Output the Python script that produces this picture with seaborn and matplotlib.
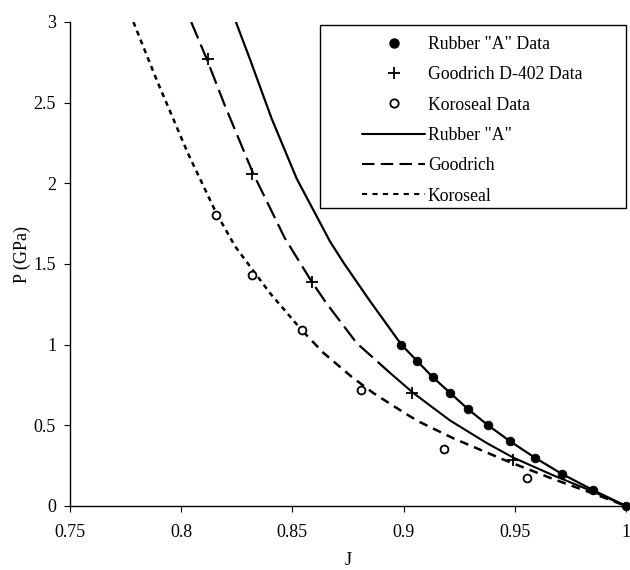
import matplotlib
matplotlib.use("Agg")
import matplotlib.pyplot as plt
import seaborn as sns
import pandas as pd
from matplotlib.lines import Line2D
from matplotlib.patches import Rectangle

# ---- data ----
rubber_data_J = [0.899, 0.906, 0.913, 0.921, 0.929, 0.938, 0.948, 0.959, 0.971, 0.985, 1.0]
rubber_data_P = [1.0, 0.9, 0.8, 0.7, 0.6, 0.5, 0.4, 0.3, 0.2, 0.1, 0.0]

goodrich_data_J = [0.812, 0.832, 0.859, 0.904, 0.949]
goodrich_data_P = [2.77, 2.06, 1.39, 0.70, 0.285]

koroseal_data_J = [0.8156, 0.8317, 0.8542, 0.8807, 0.9182, 0.9553]
koroseal_data_P = [1.805, 1.434, 1.093, 0.72, 0.356, 0.176]

rubber_curve_J = [0.8246, 0.8309, 0.8407, 0.8519, 0.8669, 0.8729, 0.8849, 0.899, 0.906,
                  0.913, 0.921, 0.929, 0.938, 0.948, 0.959, 0.971, 0.985, 1.0]
rubber_curve_P = [3.0, 2.77, 2.40, 2.03, 1.64, 1.51, 1.27, 1.0, 0.9,
                  0.8, 0.7, 0.6, 0.5, 0.4, 0.3, 0.2, 0.1, 0.0]

goodrich_curve_J = [0.8045, 0.8115, 0.8197, 0.8324, 0.8466, 0.8587, 0.8654, 0.8789, 0.8939,
                    0.9044, 0.9209, 0.9374, 0.9493, 0.9673, 0.9838, 1.0]
goodrich_curve_P = [3.0, 2.77, 2.48, 2.06, 1.66, 1.39, 1.255, 1.01, 0.825,
                    0.70, 0.53, 0.39, 0.30, 0.19, 0.097, 0.0]

koroseal_curve_J = [0.7785, 0.789, 0.8029, 0.8156, 0.8242, 0.8399, 0.8542, 0.8639, 0.8767,
                    0.8864, 0.9006, 0.9066, 0.9223, 0.9448, 0.9673, 0.9853, 1.0]
koroseal_curve_P = [3.0, 2.64, 2.19, 1.82, 1.61, 1.32, 1.09, 0.95, 0.80,
                    0.70, 0.575, 0.525, 0.42, 0.288, 0.167, 0.077, 0.0]

x_ticks = [0.75, 0.8, 0.85, 0.9, 0.95, 1.0]
x_tick_labels = ["0.75", "0.8", "0.85", "0.9", "0.95", "1"]
y_ticks = [0, 0.5, 1, 1.5, 2, 2.5, 3]
y_tick_labels = ["0", "0.5", "1", "1.5", "2", "2.5", "3"]

legend_labels = ['Rubber "A" Data', 'Goodrich D-402 Data', 'Koroseal Data',
                 'Rubber "A"', 'Goodrich', 'Koroseal']

# ---- style ----
sns.set_theme(style="white")
plt.rcParams["font.family"] = ["Liberation Serif", "DejaVu Serif"]

fig = plt.figure(figsize=(6.3, 5.7), dpi=100)
ax = fig.add_axes([70 / 630, 1 - 506 / 570, 556 / 630, 484 / 570])

rc = pd.DataFrame({"J": rubber_curve_J, "P": rubber_curve_P})
gc = pd.DataFrame({"J": goodrich_curve_J, "P": goodrich_curve_P})
kc = pd.DataFrame({"J": koroseal_curve_J, "P": koroseal_curve_P})

# Rubber "A" curve: solid
sns.lineplot(data=rc, x="J", y="P", ax=ax, sort=False, estimator=None,
             color="black", lw=1.6, zorder=2)
# Goodrich curve: long dashes, rendering turns solid in the dense lower part
sns.lineplot(data=gc[gc.J <= 0.894], x="J", y="P", ax=ax, sort=False, estimator=None,
             color="black", lw=1.6, linestyle=(0, (8, 3)), zorder=2)
sns.lineplot(data=gc[gc.J >= 0.8939], x="J", y="P", ax=ax, sort=False, estimator=None,
             color="black", lw=1.5, zorder=2)
# Koroseal curve: short dashes, then medium dashes
sns.lineplot(data=kc[kc.J <= 0.8542], x="J", y="P", ax=ax, sort=False, estimator=None,
             color="black", lw=1.8, linestyle=(0, (2.0, 1.8)), zorder=2)
sns.lineplot(data=kc[kc.J >= 0.8542], x="J", y="P", ax=ax, sort=False, estimator=None,
             color="black", lw=1.8, linestyle=(0, (3.5, 2.5)), zorder=2)

# data markers
sns.scatterplot(x=rubber_data_J, y=rubber_data_P, ax=ax, marker="o", s=40,
                color="black", edgecolor="black", linewidth=0.5, zorder=4, clip_on=False)
sns.scatterplot(x=goodrich_data_J, y=goodrich_data_P, ax=ax, marker="+", s=75,
                color="black", linewidth=1.3, zorder=4)
sns.scatterplot(x=koroseal_data_J, y=koroseal_data_P, ax=ax, marker="o", s=32,
                facecolor="white", edgecolor="black", linewidth=1.3, zorder=4)

ax.set_xlim(0.75, 1.0)
ax.set_ylim(0, 3)
ax.set_xticks(x_ticks)
ax.set_xticklabels(x_tick_labels)
ax.set_yticks(y_ticks)
ax.set_yticklabels(y_tick_labels)
ax.tick_params(axis="both", which="major", bottom=True, left=True, direction="out",
               length=4, width=0.8, color="black", labelsize=13, labelcolor="black")
ax.tick_params(axis="x", pad=9)
ax.tick_params(axis="y", pad=6)
for s in ["top", "right"]:
    ax.spines[s].set_visible(False)
for s in ["left", "bottom"]:
    ax.spines[s].set_color("black")
    ax.spines[s].set_linewidth(1.0)
ax.grid(False)
ax.set_facecolor("white")

ax.set_xlabel("J", fontsize=13, color="black", labelpad=8)
ax.set_ylabel("P (GPa)", fontsize=13, color="black")
ax.yaxis.set_label_coords(-0.07, 0.52)

# legend
handles = [
    Line2D([], [], ls="None", marker="o", markersize=6.5, color="black"),
    Line2D([], [], ls="None", marker="+", markersize=9, markeredgewidth=1.3, color="black"),
    Line2D([], [], ls="None", marker="o", markersize=6, markerfacecolor="white",
           markeredgecolor="black", markeredgewidth=1.3),
    Line2D([], [], color="black", lw=1.5),
    Line2D([], [], color="black", lw=1.5, linestyle=(0, (6, 3))),
    Line2D([], [], color="black", lw=1.5, linestyle=(0, (2.5, 2.5))),
]
leg = fig.legend(handles=handles, labels=legend_labels, loc="upper left",
                 bbox_to_anchor=(362 / 630, 1 - 36 / 570), bbox_transform=fig.transFigure,
                 frameon=False, fontsize=12.8, borderpad=0, borderaxespad=0,
                 handlelength=3.55, handletextpad=0.15, labelspacing=0.75)
for t in leg.get_texts():
    t.set_color("black")

fig.add_artist(Rectangle((320 / 630, 1 - 208 / 570), 306 / 630, 183 / 570,
                         transform=fig.transFigure, fill=False, edgecolor="black",
                         linewidth=1.0))

fig.savefig("out.png", dpi=100, facecolor="white")
